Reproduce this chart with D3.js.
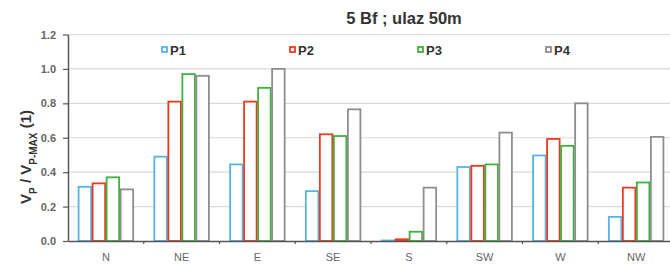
<!DOCTYPE html>
<html>
<head>
<meta charset="utf-8">
<script src="https://cdn.jsdelivr.net/npm/d3@7"></script>
<style>
  body { margin: 0; background: #fff; }
  svg { display: block; font-family: "Liberation Sans", Arial, sans-serif; }
</style>
</head>
<body>
<div class="chart"></div>
<script>
// wind directions and the four measuring points
const directions = ["N", "NE", "E", "SE", "S", "SW", "W", "NW"];
const series = ["P1", "P2", "P3", "P4"];
const p1 = [0.315, 0.49, 0.445, 0.29, 0.003, 0.43, 0.497, 0.14];
const p2 = [0.335, 0.81, 0.81, 0.62, 0.01, 0.437, 0.593, 0.31];
const p3 = [0.37, 0.97, 0.89, 0.61, 0.054, 0.445, 0.553, 0.34];
const p4 = [0.30, 0.96, 1.0, 0.765, 0.31, 0.63, 0.80, 0.605];
const yTicks = [0, 0.2, 0.4, 0.6, 0.8, 1.0, 1.2];
const colors = ["#55b4e6", "#ec3a20", "#3fb13f", "#8e8e8e"];

const values = [p1, p2, p3, p4];
const WIDTH = 670, HEIGHT = 264;
const plotLeft = 68, plotRight = 674, plotTop = 34.5, plotBottom = 241;

const svg = d3.select(".chart").append("svg")
  .attr("width", WIDTH)
  .attr("height", HEIGHT);

const x = d3.scaleBand().domain(directions).range([plotLeft, plotRight])
  .paddingInner(0.26).paddingOuter(0.13);
const xs = d3.scaleBand().domain(series).range([0, x.bandwidth()]);
const y = d3.scaleLinear().domain([0, 1.2]).range([plotBottom, plotTop]);

// gridlines
svg.append("g")
  .selectAll("line")
  .data(yTicks.slice(1))
  .enter().append("line")
  .attr("x1", plotLeft).attr("x2", WIDTH)
  .attr("y1", d => y(d)).attr("y2", d => y(d))
  .style("stroke", "#d9d9d9")
  .style("stroke-width", 1.2);

// bars
const groups = svg.append("g")
  .selectAll("g")
  .data(directions)
  .enter().append("g")
  .attr("transform", d => `translate(${x(d)},0)`);

groups.selectAll("rect")
  .data((d, i) => series.map((s, j) => ({ s, j, v: values[j][i] })))
  .enter().append("rect")
  .attr("x", d => xs(d.s) + 0.75)
  .attr("y", d => y(d.v))
  .attr("width", xs.bandwidth() - 1.5)
  .attr("height", d => plotBottom - y(d.v))
  .style("fill", "#fff")
  .style("stroke", d => colors[d.j])
  .style("stroke-width", 1.8);

// y axis
const yAxis = svg.append("g")
  .attr("transform", `translate(${plotLeft},0)`)
  .call(d3.axisLeft(y).tickValues(yTicks).tickFormat(d3.format(".1f")).tickSize(5).tickSizeOuter(0));
yAxis.select(".domain").style("stroke", "#555").style("stroke-width", 1.5);
yAxis.selectAll(".tick line").style("stroke", "#555").style("stroke-width", 1.2);
yAxis.selectAll(".tick text")
  .attr("x", -12)
  .style("font-size", "11px")
  .style("font-weight", "bold")
  .style("fill", "#666");

// x axis
const xAxis = svg.append("g")
  .attr("transform", `translate(0,${plotBottom})`)
  .call(d3.axisBottom(x).tickSize(0).tickSizeOuter(0));
xAxis.select(".domain").style("stroke", "#555").style("stroke-width", 1.5);
xAxis.selectAll(".tick text")
  .attr("y", 12)
  .style("font-size", "11px")
  .style("fill", "#666");

// small ticks between categories
svg.append("g")
  .selectAll("line")
  .data(directions.slice(1))
  .enter().append("line")
  .attr("x1", (d, i) => plotLeft + x.step() * (i + 1))
  .attr("x2", (d, i) => plotLeft + x.step() * (i + 1))
  .attr("y1", plotBottom).attr("y2", plotBottom + 3)
  .style("stroke", "#555")
  .style("stroke-width", 1.2);

// title
svg.append("text")
  .attr("x", 404).attr("y", 24)
  .attr("text-anchor", "middle")
  .style("font-size", "16.5px")
  .style("font-weight", "bold")
  .style("fill", "#333")
  .text("5 Bf ; ulaz 50m");

// legend
const legend = svg.append("g")
  .selectAll("g")
  .data(series)
  .enter().append("g")
  .attr("transform", (d, i) => `translate(${162 + i * 128},50)`);
legend.append("rect")
  .attr("x", 0).attr("y", -3)
  .attr("width", 5).attr("height", 5)
  .style("fill", "#fff")
  .style("stroke", (d, i) => colors[i])
  .style("stroke-width", 1.8);
legend.append("text")
  .attr("x", 8).attr("y", 0)
  .attr("dy", "0.35em")
  .style("font-size", "13px")
  .style("font-weight", "bold")
  .style("fill", "#333")
  .text(d => d);

// y label
const ylab = svg.append("text")
  .attr("transform", "translate(31,157) rotate(-90)")
  .attr("text-anchor", "middle")
  .style("font-size", "15px")
  .style("font-weight", "bold")
  .style("fill", "#333");
ylab.append("tspan").text("V");
ylab.append("tspan").attr("baseline-shift", "sub").style("font-size", "10px").text("P");
ylab.append("tspan").text(" / V");
ylab.append("tspan").attr("baseline-shift", "sub").style("font-size", "10px").text("P-MAX");
ylab.append("tspan").text(" (1)");
</script>
</body>
</html>
